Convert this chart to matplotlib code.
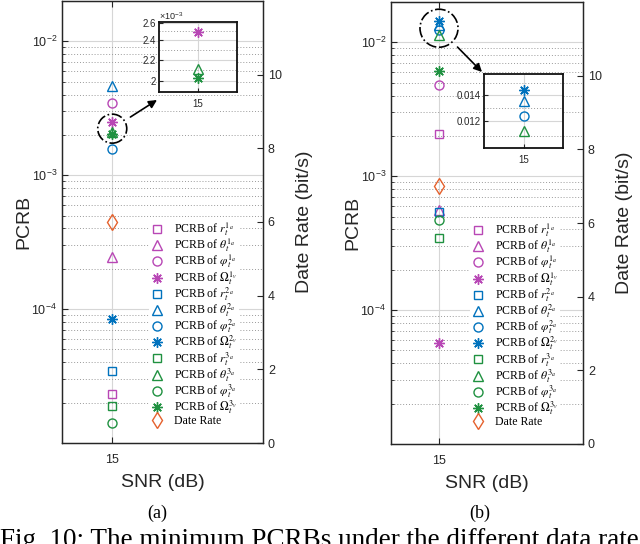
import numpy as np
import matplotlib.pyplot as plt
import matplotlib.patches as mpatches
import matplotlib.transforms as mtransforms
from matplotlib.font_manager import FontProperties
from matplotlib.ticker import FixedLocator, FixedFormatter, NullFormatter, LogLocator

plt.rcParams['font.family'] = 'Liberation Sans'
plt.rcParams['mathtext.fontset'] = 'custom'
plt.rcParams['mathtext.rm'] = 'Liberation Sans'
plt.rcParams['mathtext.it'] = 'Liberation Sans:italic'
plt.rcParams['mathtext.bf'] = 'Liberation Sans:bold'

# 横軸 (SNR) はひとつだけ
snr = [15]

# パラメータ順: r, theta, varphi, Omega
param_tex = [r'r_t', r'\theta_t', r'\varphi_t', r'\Omega_t']
param_sub = ['a', 'a', 'a', 'v']
user_ids = ['1', '2', '3']

# (a) の PCRB
pcrb_a_user1 = [2.33e-5, 2.45e-4, 3.46e-3, 2.49e-3]
pcrb_a_user2 = [3.47e-5, 4.60e-3, 1.58e-3, 8.40e-5]
pcrb_a_user3 = [1.88e-5, 2.11e-3, 1.40e-5, 2.02e-3]
rate_a = [6.0]

# (b) の PCRB
pcrb_b_user1 = [2.05e-3, 5.57e-4, 4.83e-3, 5.65e-5]
pcrb_b_user2 = [5.40e-4, 1.35e-2, 1.24e-2, 1.44e-2]
pcrb_b_user3 = [3.47e-4, 1.13e-2, 4.70e-4, 6.15e-3]
rate_b = [7.0]

# インセットの目盛
inset_a_ticks = [2.0e-3, 2.2e-3, 2.4e-3, 2.6e-3]
inset_a_labels = ['2', '2.2', '2.4', '2.6']
inset_a_minor = [2.1e-3, 2.3e-3, 2.5e-3]
inset_b_ticks = [0.012, 0.014]
inset_b_labels = ['0.012', '0.014']
inset_b_minor = [0.011, 0.013, 0.015]

user_colors = ['#B847B5', '#0072BD', '#1F9140']
rate_color = '#E5612D'
markers = ['s', '^', 'o', (8, 2, 0)]
msizes = [6, 7, 6.5, 7.5]
txt_col = '#262626'

W, H = 640, 544
fig = plt.figure(figsize=(W / 100, H / 100), dpi=100)


def px_rect(l, t, r, b):
    return [l / W, 1 - b / H, (r - l) / W, (b - t) / H]


def plot_points(ax, users):
    handles = []
    for uid, vals, col in zip(user_ids, users, user_colors):
        for tex, sub, v, m, ms in zip(param_tex, param_sub, vals, markers, msizes):
            h, = ax.plot(snr, [v], ls='none', marker=m, ms=ms, mfc='none',
                         mec=col, mew=1.0,
                         label='PCRB of $%s^{%s_%s}$' % (tex, uid, sub))
            handles.append(h)
    return handles


def panel(box, users, rate, inset_box, inset_lim, ticks, ticklabels, minor,
          offset_txt, circ_r, arrow_shrink, arrow_tip, leg_lefttop):
    ax = fig.add_axes(px_rect(*box))
    ax2 = ax.twinx()
    handles = plot_points(ax, users)
    hr, = ax2.plot(snr, rate, ls='none', marker='d', ms=8, mfc='none',
                   mec=rate_color, mew=1.0, label='Date Rate')
    handles.append(hr)

    ax.set_yscale('log')
    ax.set_ylim(1e-5, 2e-2)
    ax.set_xlim(14, 18)
    ax.set_xticks(snr)
    ax.yaxis.set_major_locator(FixedLocator([1e-4, 1e-3, 1e-2]))
    ax.yaxis.set_minor_locator(LogLocator(base=10, subs=np.arange(2, 10), numticks=20))
    ax.yaxis.set_minor_formatter(NullFormatter())
    ax.grid(True, which='major', color='#d6d6d6', lw=0.8, ls='-')
    ax.grid(True, which='minor', axis='y', color='#9a9a9a', lw=0.7, ls=(0, (1, 2)))
    ax.set_axisbelow(True)
    ax.tick_params(which='both', direction='in', top=True, right=False,
                   colors=txt_col, labelsize=9)
    ax.tick_params(which='major', length=4)
    ax.tick_params(which='minor', length=2)
    ax.tick_params(axis='x', pad=8)
    ax.set_ylabel('PCRB', fontsize=14, color=txt_col, labelpad=-1)
    ax.set_xlabel('SNR (dB)', fontsize=14, color=txt_col, labelpad=6)

    ax2.set_ylim(0, 12)
    ax2.set_yticks([0, 2, 4, 6, 8, 10])
    ax2.tick_params(direction='in', length=4, colors=txt_col, labelsize=9)
    ax2.set_ylabel('Date Rate (bit/s)', fontsize=14, color=txt_col, labelpad=10)
    for a in (ax, ax2):
        for s in a.spines.values():
            s.set_color(txt_col)
            s.set_linewidth(0.9)

    leg_prop = FontProperties(family='Liberation Serif', size=8.5, math_fontfamily='stix')
    ax2.legend(handles=handles, loc='upper left',
               bbox_to_anchor=(leg_lefttop[0] / W, 1 - leg_lefttop[1] / H),
               bbox_transform=fig.transFigure, prop=leg_prop, frameon=True,
               fancybox=False, edgecolor='none', facecolor='white', framealpha=1,
               handlelength=1.0, handletextpad=0.9, labelspacing=-0.13,
               borderpad=0.2, borderaxespad=0, numpoints=1)

    # 拡大部分を示す円と矢印
    yc = np.sqrt(inset_lim[0] * inset_lim[1])
    trans = fig.dpi_scale_trans + mtransforms.ScaledTranslation(snr[0], yc, ax.transData)
    circ = mpatches.Circle((0, 0), circ_r / 100, transform=trans, fill=False,
                           ec='k', lw=1.2, ls='-.', clip_on=False, zorder=5)
    ax2.add_artist(circ)
    ax2.annotate('', xy=(arrow_tip[0] / W, 1 - arrow_tip[1] / H), xycoords='figure fraction',
                 xytext=(snr[0], yc), textcoords=ax.transData,
                 arrowprops=dict(arrowstyle='-|>', color='k', lw=1.2,
                                 shrinkA=arrow_shrink, shrinkB=0, mutation_scale=12))

    # インセット
    axi = fig.add_axes(px_rect(*inset_box))
    plot_points(axi, users)
    axi.set_yscale('log')
    axi.set_ylim(*inset_lim)
    axi.set_xlim(14.5, 15.5)
    axi.set_xticks(snr)
    axi.yaxis.set_major_locator(FixedLocator(ticks))
    axi.yaxis.set_major_formatter(FixedFormatter(ticklabels))
    axi.yaxis.set_minor_locator(FixedLocator(minor))
    axi.yaxis.set_minor_formatter(NullFormatter())
    axi.grid(True, which='major', color='#d6d6d6', lw=0.8, ls='-')
    axi.grid(True, which='minor', axis='y', color='#9a9a9a', lw=0.7, ls=(0, (1, 2)))
    axi.set_axisbelow(True)
    axi.tick_params(which='both', direction='in', colors=txt_col, labelsize=7,
                    length=3, pad=2)
    axi.tick_params(axis='x', pad=5)
    axi.tick_params(which='minor', length=0)
    for s in axi.spines.values():
        s.set_color('#111111')
        s.set_linewidth(1.3)
    if offset_txt:
        axi.text(0.0, 1.0, offset_txt, transform=axi.transAxes, ha='left', va='bottom',
                 fontsize=6.5, color=txt_col)
    return ax


panel((62, 1, 263, 443), [pcrb_a_user1, pcrb_a_user2, pcrb_a_user3], rate_a,
      (159, 22, 237, 92), (1.9e-3, 2.61e-3), inset_a_ticks, inset_a_labels, inset_a_minor,
      r'$\times 10^{-3}$', 14.5, 15.5, (157, 100), (149, 218))
panel((391, 2, 583, 444), [pcrb_b_user1, pcrb_b_user2, pcrb_b_user3], rate_b,
      (484, 74, 563, 148), (0.01023, 0.01586), inset_b_ticks, inset_b_labels, inset_b_minor,
      None, 19, 19, (482, 72), (470, 219))

fig.text(157 / W, 1 - 513 / H, '(a)', ha='center', va='center',
         family='Liberation Serif', fontsize=13)
fig.text(480 / W, 1 - 513 / H, '(b)', ha='center', va='center',
         family='Liberation Serif', fontsize=13)
fig.text(0 / W, 1 - 547 / H, 'Fig. 10: The minimum PCRBs under the different data rate',
         ha='left', va='baseline', family='Liberation Serif', fontsize=19.5)

fig.savefig('out.png', dpi=100)
